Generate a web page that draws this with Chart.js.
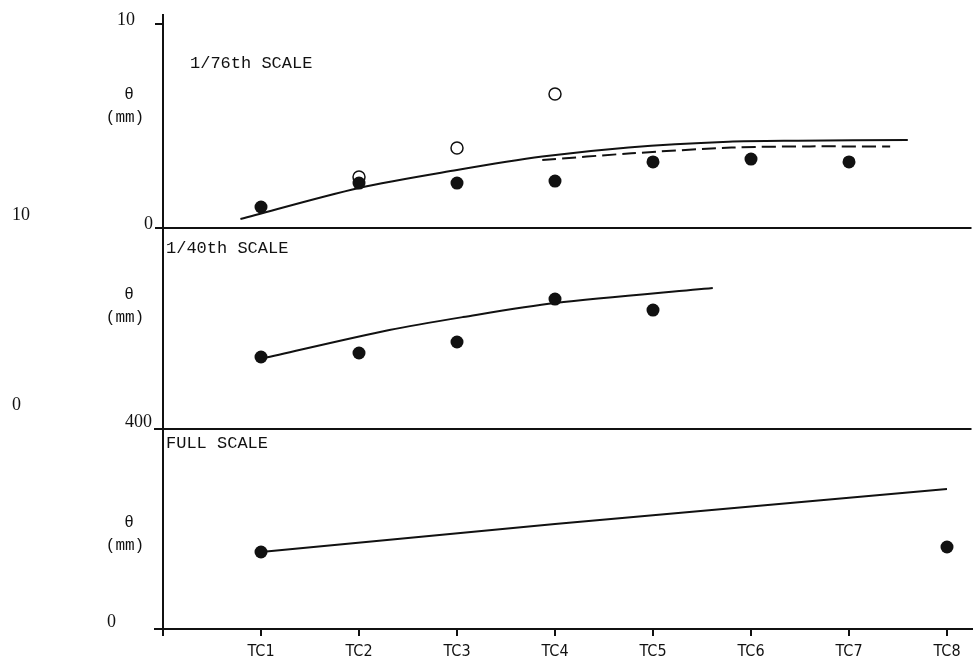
<!DOCTYPE html>
<html>
<head>
<meta charset="utf-8">
<script src="https://cdn.jsdelivr.net/npm/chart.js@4/dist/chart.umd.min.js"></script>
<style>
  body { margin: 0; background: #fff; }
  #wrap { width: 979px; height: 666px; }
</style>
</head>
<body>
<div id="wrap"><canvas id="graficaTheta"></canvas></div>
<script>
// x positions of the thermocouples
var tcTicks = [0, 1, 2, 3, 4, 5, 6, 7, 8];
var tcLabels = ['', 'TC1', 'TC2', 'TC3', 'TC4', 'TC5', 'TC6', 'TC7', 'TC8'];

// 1/76th scale
var smallTC = [1, 2, 3, 4, 5, 6, 7];
var smallFilled = [1.03, 2.2, 2.2, 2.3, 3.24, 3.38, 3.24];
var smallOpenTC = [2, 3, 4];
var smallOpen = [2.5, 3.92, 6.57];
var smallLineX = [0.79, 2, 3, 3.87, 4.75, 5.77, 6.48, 7.6];
var smallLineY = [0.44, 1.96, 2.84, 3.5, 3.95, 4.23, 4.28, 4.31];
var smallDashX = [3.87, 4.78, 5.8, 6.6, 7.42];
var smallDashY = [3.33, 3.66, 3.94, 4.0, 3.99];
var smallTicks = [0, 10];

// 1/40th scale
var midTC = [1, 2, 3, 4, 5];
var midFilled = [2.53, 2.74, 3.32, 5.58, 5.0];
var midLineX = [1.02, 2.31, 3.06, 4, 5.61];
var midLineY = [2.46, 3.95, 4.63, 5.37, 6.16];
var midTicks = [10, 0];

// full scale
var fullTC = [1, 8];
var fullFilled = [154, 164];
var fullLineX = [1, 4, 8];
var fullLineY = [154, 210, 280];
var fullTicks = [0, 400];

var panelTitles = ['1/76th SCALE', '1/40th SCALE', 'FULL SCALE'];

function pts(xs, ys) {
    return xs.map(function(x, i) { return {x: x, y: ys[i]}; });
}

var INK = '#111';

function curve(xs, ys, axis, dash, tension) {
    return {
        data: pts(xs, ys),
        yAxisID: axis,
        showLine: true,
        borderColor: INK,
        borderWidth: 2,
        borderDash: dash || [],
        pointRadius: 0,
        tension: tension === undefined ? 0.3 : tension,
        fill: false
    };
}

function dots(xs, ys, axis, open) {
    return {
        data: pts(xs, ys),
        yAxisID: axis,
        showLine: false,
        pointRadius: open ? 6 : 6.5,
        pointBackgroundColor: open ? '#fff' : INK,
        pointBorderColor: INK,
        pointBorderWidth: open ? 1.5 : 0
    };
}

function fixedTicks(list) {
    return function(scale) {
        scale.ticks = list.map(function(v) { return {value: v}; });
    };
}

var panelTexts = {
    id: 'panelTexts',
    afterDraw: function(chart) {
        var ctx = chart.ctx;
        var left = chart.chartArea.left;
        var axes = [chart.scales.yTop, chart.scales.yMid, chart.scales.yBot];
        var titleDx = [27, 3, 3];
        var titleDy = [48, 20, 14];
        var thetaDy = [80, 67, 94];
        ctx.save();
        ctx.fillStyle = INK;
        ctx.textBaseline = 'middle';
        axes.forEach(function(ax, i) {
            ctx.font = '17px "Liberation Mono", "DejaVu Sans Mono", monospace';
            ctx.textAlign = 'left';
            ctx.fillText(panelTitles[i], left + titleDx[i], ax.top + titleDy[i]);
            ctx.font = '16px "Liberation Mono", "DejaVu Sans Mono", monospace';
            ctx.textAlign = 'center';
            ctx.fillText('\u03b8', left - 34, ax.top + thetaDy[i]);
            ctx.fillText('(mm)', left - 38, ax.top + thetaDy[i] + 23);
        });
        // stray scale labels of the 1/40th panel, far to the left
        var mid = chart.scales.yMid;
        ctx.font = '18px "Liberation Serif", serif';
        ctx.textAlign = 'left';
        midTicks.forEach(function(v) {
            ctx.fillText(String(v), 12, mid.getPixelForValue(v));
        });
        ctx.restore();
    }
};

document.addEventListener("DOMContentLoaded", function() {
    var ctx = document.getElementById("graficaTheta").getContext("2d");
    var numFont = {family: '"Liberation Serif", serif', size: 18};
    var yBase = {
        type: 'linear',
        position: 'left',
        stack: 'panels',
        border: {color: INK, width: 2},
        afterFit: function(scale) { scale.width = 163; }
    };
    var graficaTheta = new Chart(ctx, {
        type: 'scatter',
        data: {
            datasets: [
                curve(smallLineX, smallLineY, 'yTop'),
                curve(smallDashX, smallDashY, 'yTop', [14, 6]),
                dots(smallTC, smallFilled, 'yTop', false),
                dots(smallOpenTC, smallOpen, 'yTop', true),
                curve(midLineX, midLineY, 'yMid'),
                dots(midTC, midFilled, 'yMid', false),
                curve(fullLineX, fullLineY, 'yBot', null, 0.1),
                dots(fullTC, fullFilled, 'yBot', false)
            ]
        },
        options: {
            responsive: true,
            maintainAspectRatio: false,
            animation: false,
            layout: {padding: {top: 15, right: 4, left: 0, bottom: 0}},
            plugins: {
                legend: {display: false},
                tooltip: {enabled: false}
            },
            scales: {
                x: {
                    type: 'linear',
                    min: 0,
                    max: 8.25,
                    afterBuildTicks: fixedTicks(tcTicks),
                    afterFit: function(scale) { scale.height = 37; },
                    ticks: {
                        callback: function(v) { return tcLabels[v] || ''; },
                        autoSkip: false,
                        maxRotation: 0,
                        padding: 6,
                        color: INK,
                        font: {family: '"DejaVu Sans Condensed", "Liberation Sans Narrow", sans-serif', size: 16}
                    },
                    grid: {drawOnChartArea: false, tickLength: 7, tickColor: INK, lineWidth: 2},
                    border: {color: INK, width: 2}
                },
                yBot: Object.assign({}, yBase, {
                    stackWeight: 200,
                    min: 0,
                    max: 400,
                    afterBuildTicks: fixedTicks(fullTicks),
                    ticks: {
                        callback: function(v) { return v === 400 ? '400' : '0        '; },
                        padding: 2,
                        labelOffset: -7,
                        color: INK,
                        font: numFont
                    },
                    grid: {
                        tickLength: 9,
                        lineWidth: 2,
                        tickColor: INK,
                        color: function(c) { return c.tick && c.tick.value === 400 ? INK : 'rgba(0,0,0,0)'; }
                    }
                }),
                yMid: Object.assign({}, yBase, {
                    stackWeight: 201,
                    min: -1.26,
                    max: 9.32,
                    ticks: {display: false},
                    grid: {display: false}
                }),
                yTop: Object.assign({}, yBase, {
                    stackWeight: 213,
                    min: 0,
                    max: 10.44,
                    afterBuildTicks: fixedTicks(smallTicks),
                    ticks: {
                        callback: function(v) { return v === 10 ? '10    ' : '0'; },
                        padding: 2,
                        labelOffset: -4,
                        color: INK,
                        font: numFont
                    },
                    grid: {
                        tickLength: 8,
                        lineWidth: 2,
                        tickColor: INK,
                        color: function(c) { return c.tick && c.tick.value === 0 ? INK : 'rgba(0,0,0,0)'; }
                    }
                })
            }
        },
        plugins: [panelTexts]
    });
});
</script>
</body>
</html>
